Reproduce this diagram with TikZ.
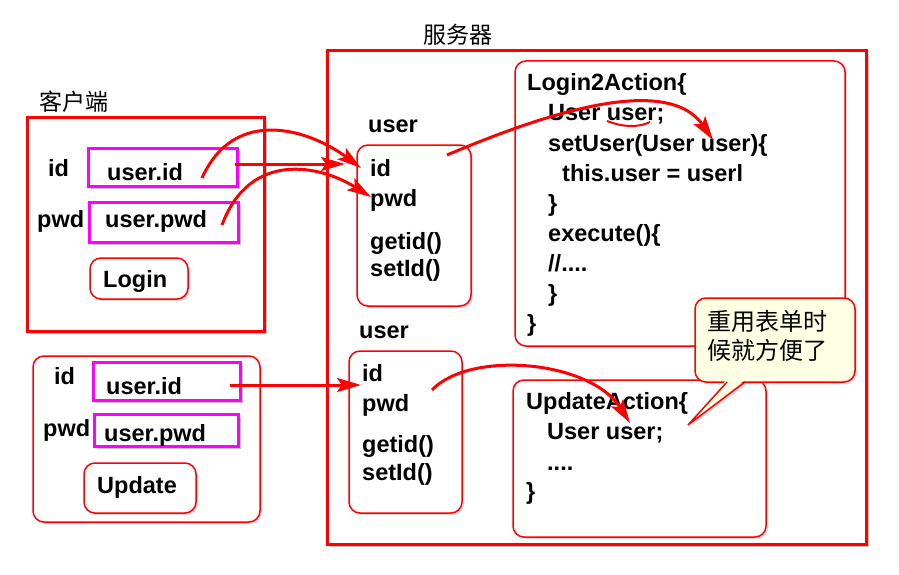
\documentclass[tikz,border=0pt]{standalone}
\usepackage{fontspec}
\setmainfont{Liberation Sans}
\newfontfamily\cjk{Noto Sans CJK SC}
\usetikzlibrary{fit,shadows,arrows.meta}
\definecolor{mag}{RGB}{255,0,255}
\definecolor{rd}{RGB}{255,0,0}
\definecolor{tipfill}{RGB}{255,255,228}
\tikzset{
  shade/.style={drop shadow={shadow xshift=3pt,shadow yshift=-3pt,fill=black!55,opacity=0.45}},
  bigbox/.style={draw=rd,line width=3pt,fill=white,inner sep=0pt,shade},
  fieldbox/.style={draw=mag,line width=3pt,fill=white,inner sep=0pt,shade},
  rbox/.style={draw=rd,line width=1.5pt,fill=white,rounded corners=11pt,inner sep=0pt,
    drop shadow={shadow xshift=2pt,shadow yshift=-2pt,fill=black!35,opacity=0.4}},
  txt/.style={anchor=base west,inner sep=0pt,font=\fontsize{23.5}{28}\selectfont\bfseries},
  ctxt/.style={anchor=base west,inner sep=0pt,font=\fontsize{23}{28}\selectfont\cjk},
  arr/.style={draw=rd,line width=3pt,-{Stealth[length=24pt,width=14pt,inset=5pt]}},
}
\begin{document}
\begin{tikzpicture}[x=1pt,y=-1pt]
\useasboundingbox (0,0) rectangle (899,575);
% server
\node[bigbox,fit={(327,51) (866,544)}] (server) {};
\node[ctxt] (servert) at (423,44) {服务器};
% client 1
\node[ctxt] (clientt) at (39,111) {客户端};
\node[bigbox,fit={(27,118) (264,331)}] (client1) {};
\node[txt] (id1) at (48,176) {id};
\node[txt] (pwd1) at (37,227) {pwd};
\node[fieldbox,fit={(88,148) (237,186)}] (uid1) {};
\node[txt] (uid1t) at (107,180) {user.id};
\node[fieldbox,fit={(89,202) (238,242)}] (upwd1) {};
\node[txt] (upwd1t) at (105,227) {user.pwd};
\node[rbox,fit={(90,258) (188,299)}] (login) {};
\node[txt] (logint) at (103,287) {Login};
% client 2
\node[rbox,fit={(33,356) (260,522)}] (client2) {};
\node[txt] (id2) at (54,384) {id};
\node[txt] (pwd2) at (43,436) {pwd};
\node[fieldbox,fit={(93,362) (240,400)}] (uid2) {};
\node[txt] (uid2t) at (106,394) {user.id};
\node[fieldbox,fit={(94,414) (238,446)}] (upwd2) {};
\node[txt] (upwd2t) at (104,441) {user.pwd};
\node[rbox,fit={(84,463) (196,513)}] (update) {};
\node[txt] (updatet) at (97,493) {Update};
% user object 1
\node[txt] (ulbl1) at (368,132) {user};
\node[rbox,fit={(357,145) (471,306)}] (ubox1) {};
\node[txt] (u1id) at (370,176) {id};
\node[txt] (u1pwd) at (370,206) {pwd};
\node[txt] (u1get) at (370,249) {getid()};
\node[txt] (u1set) at (370,276) {setId()};
% user object 2
\node[txt] (ulbl2) at (359,338) {user};
\node[rbox,fit={(349,351) (462,513)}] (ubox2) {};
\node[txt] (u2id) at (362,381) {id};
\node[txt] (u2pwd) at (362,411) {pwd};
\node[txt] (u2get) at (362,452) {getid()};
\node[txt] (u2set) at (362,480) {setId()};
% Login2Action
\node[rbox,fit={(515,61) (845,346)}] (login2) {};
\node[txt] (l1) at (527,91) {Login2Action\{};
\node[txt] (l2) at (548,121) {User user;};
\node[txt] (l3) at (548,151) {setUser(User user)\{};
\node[txt] (l4) at (562,181) {this.user = userl};
\node[txt] (l5) at (548,211) {\}};
\node[txt] (l6) at (548,241) {execute()\{};
\node[txt] (l7) at (548,271) {//....};
\node[txt] (l8) at (548,301) {\}};
\node[txt] (l9) at (527,331) {\}};
% UpdateAction
\node[rbox,fit={(513,380) (766,537)}] (updact) {};
\node[txt] (m1) at (526,409) {UpdateAction\{};
\node[txt] (m2) at (547,439) {User user;};
\node[txt] (m3) at (547,470) {....};
\node[txt] (m4) at (526,499) {\}};
% callout
\coordinate (tip) at (688,425);
\fill[black!35,opacity=0.4] (729,384) -- (690,427) -- (747,384) -- cycle;
\node[draw=rd,line width=1.5pt,fill=tipfill,rounded corners=11pt,inner sep=0pt,
  drop shadow={shadow xshift=2pt,shadow yshift=-2pt,fill=black!35,opacity=0.4},
  fit={(695,298) (855,382)}] (bubble) {};
\fill[tipfill] (727,379) -- (746,379) -- (tip) -- cycle;
\draw[rd,line width=1.5pt,line join=miter] (727,382) -- (tip) -- (745,382);
\node[ctxt,font=\fontsize{24}{28}\selectfont\cjk] (c1) at (707,330) {重用表单时};
\node[ctxt,font=\fontsize{24}{28}\selectfont\cjk] (c2) at (707,359) {候就方便了};
% connectors
\coordinate (aS) at (202,178);
\coordinate (aE) at (361,168);
\coordinate (bS) at (235,164);
\coordinate (bE) at (345,164);
\coordinate (cS) at (222,225);
\coordinate (cE) at (371,197);
\coordinate (dS) at (447,155);
\coordinate (dE) at (713,140);
\coordinate (eS) at (230,385);
\coordinate (eE) at (361,385);
\coordinate (fS) at (432,390);
\coordinate (fE) at (630,423);
\coordinate (uS) at (607,121);
\coordinate (uE) at (650,122);
\draw[arr] (aS) .. controls (235,105) and (310,130) .. (aE);
\draw[arr] (bS) -- (bE);
\draw[arr] (cS) .. controls (250,150) and (320,165) .. (cE);
\draw[arr] (dS) .. controls (530,120) and (665,70) .. (dE);
\draw[arr] (eS) -- (eE);
\draw[arr] (fS) .. controls (470,350) and (590,360) .. (fE);
\draw[rd,line width=2pt] (uS) .. controls (625,128) and (640,127) .. (uE);
\end{tikzpicture}
\end{document}
